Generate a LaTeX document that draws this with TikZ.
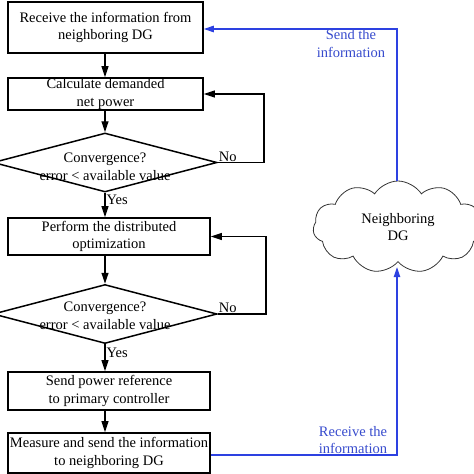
\documentclass[tikz,border=0pt]{standalone}
\usepackage{fontspec}
\setmainfont{Liberation Serif}
\usetikzlibrary{shapes.geometric,shapes.symbols,arrows.meta}
\definecolor{lblue}{RGB}{45,65,225}
\definecolor{tblue}{RGB}{55,75,205}
\begin{document}
\begin{tikzpicture}[x=1pt,y=-1pt,
  every node/.style={font=\fontsize{14.5}{17.5}\selectfont},
  procbox/.style={draw,line width=1.7pt,inner sep=0pt,align=center},
  dia/.style={draw,diamond,line width=1.5pt,inner sep=0pt,minimum width=224pt,minimum height=59pt},
  conn/.style={line width=1.2pt,-{Triangle[length=11pt,width=7pt]}},
  bconn/.style={lblue,line width=1.1pt,-{Triangle[length=10pt,width=6.5pt]}},
  blab/.style={text=tblue,align=center,inner sep=0pt}]
\useasboundingbox (0,0) rectangle (474,474);
% boxes
\node[procbox,minimum width=195pt,minimum height=51pt] (b1) at (105.5,27.5) {Receive the information from\\neighboring DG};
\node[procbox,minimum width=195pt,minimum height=32pt] (b2) at (105.5,94) {Calculate demanded\\net power};
\node[dia] (d1) at (105,162.5) {};
\node[align=center,inner sep=0pt] (t1) at (105,167) {Convergence?\\error < available value};
\node[procbox,minimum width=202pt,minimum height=37pt] (b3) at (109,236.5) {Perform the distributed\\optimization};
\node[dia] (d2) at (105,314) {};
\node[align=center,inner sep=0pt] (t2) at (105,316) {Convergence?\\error < available value};
\node[procbox,minimum width=202pt,minimum height=38pt] (b4) at (109,391) {Send power reference\\to primary controller};
\node[procbox,minimum width=202pt,minimum height=40pt] (b5) at (109,453) {Measure and send the information\\to neighboring DG};
\node[cloud,draw=black!80,line width=0.8pt,cloud puffs=11,cloud puff arc=115,aspect=1.9,minimum width=170pt,minimum height=92pt,align=center,inner sep=0pt] (c) at (398,227) {Neighboring\\DG};
% connectors
\draw[conn] (b1.south -| 105,0) -- (b2.north -| 105,0);
\draw[conn] (b2.south -| 105,0) -- (d1.north);
\draw[conn] (d1.south) -- (b3.north -| 105,0) node[pos=0.3,anchor=west,inner sep=1pt] {Yes};
\draw[conn] (d2.south) -- (b4.north -| 105,0) node[pos=0.3,anchor=west,inner sep=1pt] {Yes};
\draw[conn] (b3.south -| 105,0) -- (d2.north);
\draw[conn] (b4.south -| 105,0) -- (b5.north -| 105,0);
\coordinate (r1) at (264,162.5);
\coordinate (r2) at (266,314);
\draw[conn] (d1.east) -- (r1) |- (b2.east);
\draw[conn] (d2.east) -- (r2) |- (b3.east);
\node[anchor=south west,inner sep=1pt] (no1) at (d1.east) {No};
\node[anchor=south west,inner sep=1pt] (no2) at (d2.east) {No};
% blue links
\coordinate (u1) at (397,29);
\coordinate (u2) at (397,455);
\draw[bconn] (c.north -| 397,0) -- (u1) -- (u1 -| b1.east);
\draw[bconn,shorten >=5pt] (b5.east |- u2) -- (u2) -- (c.south -| 397,0);
\node[blab,anchor=north] (sl) at (351,29.5) {Send the\\information};
\node[blab,anchor=south] (rl) at (353,454) {Receive the\\information};
\end{tikzpicture}
\end{document}
